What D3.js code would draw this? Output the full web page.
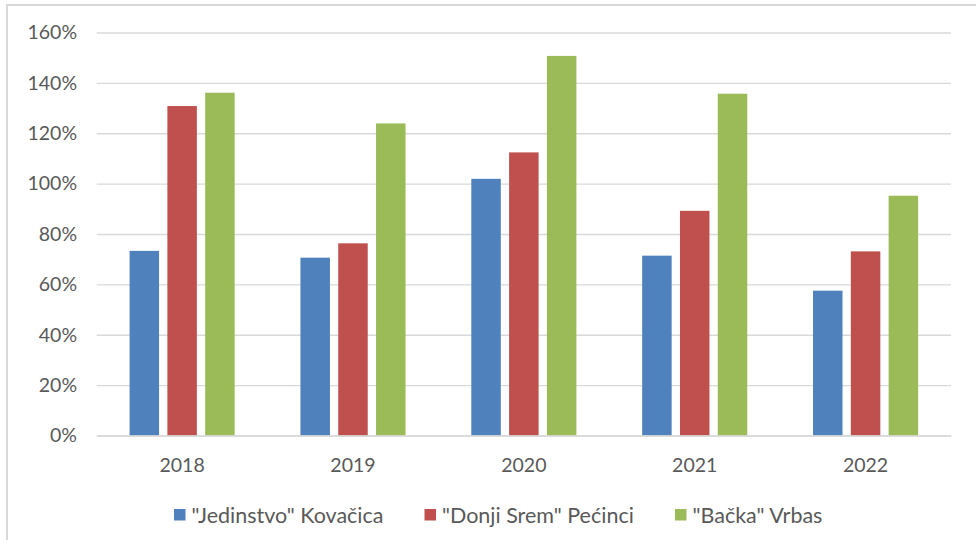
<!DOCTYPE html>
<html>
<head>
<meta charset="utf-8">
<script src="https://cdn.jsdelivr.net/npm/d3@7/dist/d3.min.js"></script>
<style>
  html, body { margin: 0; padding: 0; background: #ffffff; }
  svg { display: block; }
  text { font-family: Lato, "Open Sans", sans-serif; fill: #595959; }
</style>
</head>
<body>
<svg id="chart" width="976" height="540"></svg>
<script>
// Years on the category axis
const years = ["2018", "2019", "2020", "2021", "2022"];

// Series names, as shown in the legend
const seriesNames = ['"Jedinstvo" Kovačica', '"Donji Srem" Pećinci', '"Bačka" Vrbas'];

// Values per series, in percent
const jedinstvo = [73.3, 70.6, 101.9, 71.4, 57.5];
const donjiSrem = [130.8, 76.3, 112.4, 89.2, 73.1];
const backa     = [136.1, 123.9, 150.7, 135.7, 95.2];

// Value axis ticks
const yTicks = [0, 20, 40, 60, 80, 100, 120, 140, 160];

const seriesValues = [jedinstvo, donjiSrem, backa];
const colors = ["#4f81bd", "#c0504d", "#9bbb59"];

const svg = d3.select("#chart");
const W = 976, H = 540;
const plot = { left: 96.7, right: 951, top: 32.5, bottom: 435.5 };

// Outer frame of the chart area
svg.append("rect")
  .attr("x", 7).attr("y", 5)
  .attr("width", W + 20).attr("height", H + 20)
  .attr("fill", "#ffffff")
  .attr("stroke", "#d9d9d9").attr("stroke-width", 2);

const x = d3.scaleBand()
  .domain(years)
  .range([plot.left, plot.right])
  .paddingInner(0).paddingOuter(0);

const xInner = d3.scaleBand()
  .domain(d3.range(seriesNames.length))
  .range([0, x.bandwidth()])
  .paddingInner(0.22)
  .paddingOuter(0.87);

const y = d3.scaleLinear()
  .domain([0, 160])
  .range([plot.bottom, plot.top]);

// Horizontal gridlines and percentage labels
const yAxis = d3.axisLeft(y)
  .tickValues(yTicks)
  .tickSize(-(plot.right - plot.left))
  .tickPadding(20)
  .tickFormat(d => d + "%");

const gy = svg.append("g")
  .attr("transform", `translate(${plot.left},0)`)
  .call(yAxis);
gy.select(".domain").remove();
gy.selectAll(".tick line").attr("stroke", "#d9d9d9").attr("stroke-width", 1.3);
gy.selectAll(".tick text")
  .attr("x", 77 - plot.left)
  .style("font-size", "19.5px")
  .attr("fill", "#595959");

// Bars grouped by year
const groups = svg.append("g")
  .selectAll("g")
  .data(years)
  .join("g")
  .attr("transform", d => `translate(${x(d)},0)`);

groups.selectAll("rect")
  .data((yr, i) => seriesValues.map((vals, s) => ({ s, v: vals[i] })))
  .join("rect")
  .attr("x", d => xInner(d.s))
  .attr("width", xInner.bandwidth())
  .attr("y", d => y(d.v))
  .attr("height", d => y(0) - y(d.v))
  .attr("fill", d => colors[d.s]);

// Category axis labels
const xAxis = d3.axisBottom(x).tickSize(0).tickPadding(0);
const gx = svg.append("g")
  .attr("transform", `translate(0,${plot.bottom})`)
  .call(xAxis);
gx.select(".domain").attr("stroke", "#d9d9d9").attr("stroke-width", 1.3);
gx.selectAll(".tick text")
  .attr("y", 36)
  .attr("dy", 0)
  .style("font-size", "19.5px")
  .attr("fill", "#595959");

// Legend below the plot
const legend = svg.append("g")
  .selectAll("g")
  .data(seriesNames)
  .join("g")
  .attr("transform", (d, i) => `translate(${174 + i * 250.5},515)`);

legend.append("rect")
  .attr("x", 0).attr("y", -6)
  .attr("width", 11.5).attr("height", 11.5)
  .attr("fill", (d, i) => colors[i]);

legend.append("text")
  .attr("x", 17.5)
  .attr("y", 7.5)
  .style("font-size", "21.5px")
  .text(d => d);
</script>
</body>
</html>
